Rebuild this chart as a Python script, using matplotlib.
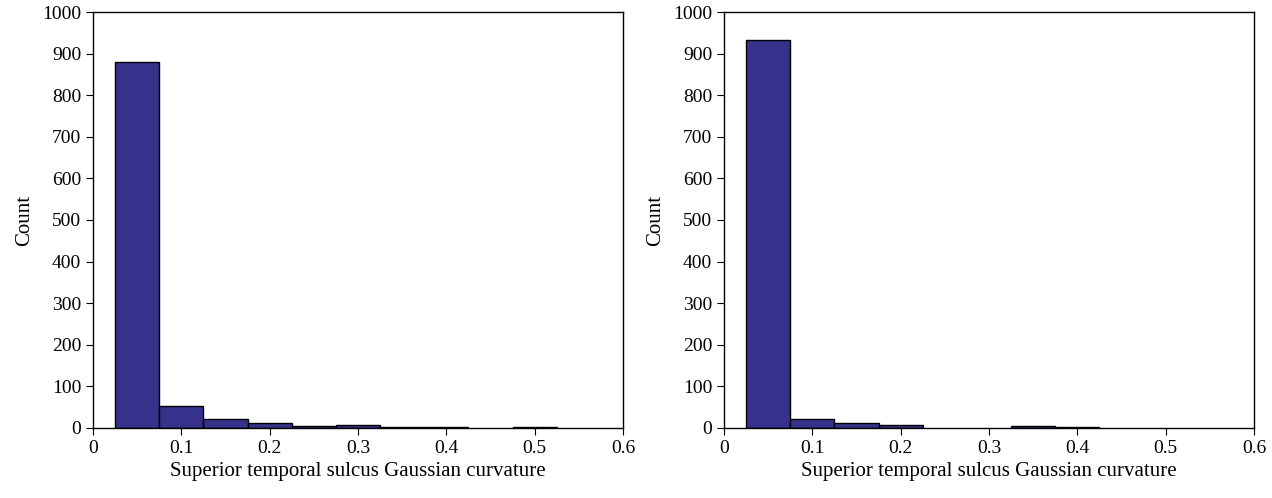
import numpy as np
from matplotlib import pyplot as plt

plt.rcParams['font.family'] = ['Liberation Serif', 'DejaVu Serif']

bin_centers = [0.05, 0.10, 0.15, 0.20, 0.25, 0.30, 0.35, 0.40, 0.45, 0.50]
counts_left = [880, 54, 21, 11, 5, 8, 2, 2, 0, 2]
counts_right = [933, 22, 11, 7, 0, 0, 5, 2, 0, 0]
bin_width = 0.05
xlabel = "Superior temporal sulcus Gaussian curvature"
bar_color = "#36318a"

fig = plt.figure(figsize=[12.72, 4.98], dpi=100)
ax1 = fig.add_axes([0.0731, 0.1406, 0.4167, 0.8353])
ax2 = fig.add_axes([0.5692, 0.1406, 0.4167, 0.8353])

for ax, counts in [(ax1, counts_left), (ax2, counts_right)]:
    x = np.array(bin_centers)
    c = np.array(counts)
    keep = c > 0  # empty bins are not drawn
    ax.bar(x[keep], c[keep], width=bin_width, color=bar_color,
           edgecolor='black', linewidth=1.0)
    ax.set_xlim(0, 0.6)
    ax.set_ylim(0, 1000)
    ax.set_xticks(np.arange(0, 0.61, 0.1))
    ax.set_xticklabels(["0", "0.1", "0.2", "0.3", "0.4", "0.5", "0.6"])
    ax.set_yticks(np.arange(0, 1001, 100))
    ax.set_xlabel(xlabel, fontsize=15, labelpad=4)
    ax.set_ylabel("Count", fontsize=15, labelpad=6)
    ax.tick_params(axis='both', which='both', direction='out', labelsize=14,
                   length=5)
    for s in ax.spines.values():
        s.set_linewidth(1.0)

plt.savefig('out.png', dpi=100)
